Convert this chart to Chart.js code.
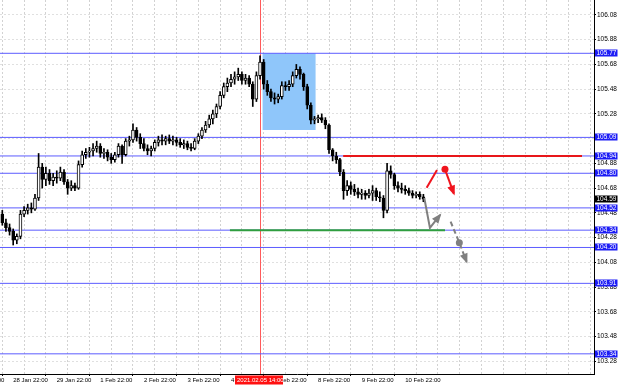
<!DOCTYPE html>
<html><head><meta charset="utf-8">
<script src="https://cdn.jsdelivr.net/npm/chart.js@4.4.1/dist/chart.umd.min.js"></script>
<style>html,body{margin:0;padding:0;background:#fff;overflow:hidden}canvas{display:block}</style>
</head><body>
<canvas id="c" width="620" height="385"></canvas>
<script>
// 2-hour bars, USDJPY-style price data (bar index = category position)
const openP = [104.47,104.40,104.36,104.33,104.26,104.29,104.47,104.50,104.52,104.51,
104.60,104.85,104.75,104.80,104.74,104.77,104.76,104.81,104.73,104.68,
104.70,104.68,104.87,104.95,104.97,104.98,105.00,105.02,104.96,104.97,
104.93,104.91,104.95,105.02,104.95,105.06,105.07,105.15,105.09,105.04,
105.00,104.98,105.00,105.05,105.07,105.06,105.08,105.06,105.07,105.05,
105.03,105.04,105.01,105.00,105.06,105.10,105.15,105.19,105.24,105.28,
105.34,105.43,105.50,105.53,105.56,105.58,105.60,105.55,105.57,105.52,
105.40,105.59,105.70,105.52,105.46,105.41,105.40,105.42,105.51,105.50,
105.52,105.59,105.64,105.60,105.50,105.35,105.23,105.24,105.25,105.23,
105.19,104.99,104.94,104.91,104.81,104.66,104.70,104.67,104.65,104.63,
104.64,104.62,104.64,104.66,104.61,104.60,104.50,104.82,104.79,104.70,
104.68,104.67,104.66,104.64,104.62,104.63,104.61];
const highP = [104.50,104.43,104.39,104.35,104.31,104.50,104.53,104.55,104.56,104.63,
104.96,104.88,104.85,104.83,104.80,104.82,104.85,104.83,104.75,104.74,
104.72,104.90,104.98,105.00,105.01,105.04,105.06,105.04,105.00,104.99,
104.96,104.97,105.04,105.03,105.08,105.10,105.20,105.17,105.12,105.08,
105.03,105.02,105.07,105.10,105.11,105.10,105.11,105.10,105.09,105.08,
105.07,105.06,105.04,105.08,105.12,105.17,105.22,105.27,105.31,105.36,
105.46,105.53,105.57,105.60,105.62,105.65,105.62,105.60,105.59,105.54,
105.62,105.75,105.72,105.55,105.48,105.45,105.44,105.54,105.54,105.55,
105.62,105.68,105.66,105.61,105.52,105.37,105.26,105.27,105.28,105.25,
105.20,105.00,104.97,104.92,104.83,104.74,104.73,104.71,104.68,104.67,
104.66,104.67,104.70,104.68,104.65,104.62,104.88,104.86,104.80,104.73,
104.72,104.70,104.68,104.66,104.65,104.65,104.63];
const lowP = [104.38,104.33,104.30,104.22,104.23,104.27,104.45,104.47,104.48,104.50,
104.58,104.68,104.70,104.71,104.70,104.72,104.74,104.71,104.63,104.66,
104.66,104.67,104.85,104.92,104.93,104.94,104.97,104.93,104.92,104.90,
104.88,104.89,104.93,104.88,104.94,105.02,105.05,105.06,105.00,104.98,
104.95,104.94,104.98,105.02,105.03,105.03,105.04,105.03,105.02,105.01,
105.00,104.99,104.98,104.99,105.04,105.08,105.13,105.17,105.20,105.25,
105.32,105.41,105.46,105.50,105.52,105.55,105.52,105.52,105.50,105.34,
105.38,105.56,105.48,105.43,105.38,105.36,105.37,105.40,105.47,105.47,
105.50,105.57,105.56,105.47,105.32,105.20,105.20,105.21,105.21,105.16,
104.96,104.90,104.88,104.78,104.59,104.62,104.63,104.62,104.60,104.59,
104.59,104.60,104.58,104.58,104.57,104.44,104.48,104.76,104.67,104.65,
104.64,104.63,104.62,104.60,104.60,104.59,104.57];
const closeP = [104.40,104.36,104.33,104.26,104.29,104.47,104.50,104.52,104.51,104.60,
104.85,104.75,104.80,104.74,104.77,104.76,104.81,104.73,104.68,104.70,
104.68,104.87,104.95,104.97,104.98,105.00,105.02,104.96,104.97,104.93,
104.91,104.95,105.02,104.95,105.06,105.07,105.15,105.09,105.04,105.00,
104.98,105.00,105.05,105.07,105.06,105.08,105.06,105.07,105.05,105.03,
105.04,105.01,105.00,105.06,105.10,105.15,105.19,105.24,105.28,105.34,
105.43,105.50,105.53,105.56,105.58,105.60,105.55,105.57,105.52,105.40,
105.59,105.70,105.52,105.46,105.41,105.40,105.42,105.51,105.50,105.52,
105.59,105.64,105.60,105.50,105.35,105.23,105.24,105.25,105.23,105.19,
104.99,104.94,104.91,104.81,104.66,104.70,104.67,104.65,104.63,104.64,
104.62,104.64,104.66,104.61,104.60,104.50,104.82,104.79,104.70,104.68,
104.67,104.66,104.64,104.62,104.63,104.61,104.59];

const xTickPos = [-9,3,15,27,39,51,63,75,87,99,111];
const xTickLabels = ['27 Jan 22:00','28 Jan 22:00','29 Jan 22:00','1 Feb 22:00','2 Feb 22:00','3 Feb 22:00','4 Feb 22:00','5 Feb 22:00','8 Feb 22:00','9 Feb 22:00','10 Feb 22:00'];
const yTicks = [103.28,103.48,103.68,103.88,104.08,104.28,104.48,104.68,104.88,105.08,105.28,105.48,105.68,105.88,106.08];

const hLevels = [105.77,105.09,104.94,104.80,104.52,104.34,104.20,103.91,103.34];
const lastPrice = 104.59;
const resistance = {from:93.9, to:159.7, price:104.94};
const support = {from:62.7, to:121.96, price:104.34};
const markerBar = 71;
const markerLabel = '2021.02.05 14:00';
const boxBars = [71.7, 86.3];
const boxPrices = [105.77, 105.15];
const redUp = [[116.9,104.683],[119.75,104.826]];
const redDown = [[121.95,104.832],[124.4,104.636]];
const grayUp = [[116.25,104.60],[117.8,104.358],[120.6,104.463]];
const grayDown = [[123.5,104.409],[125.9,104.239],[127.9,104.085]];

const X_MIN = -0.636, X_MAX = 163.0, Y_MIN = 103.177, Y_MAX = 106.201;
const FONT = "'Liberation Sans', Arial, sans-serif";

const gridPos = [];
for (let v = -9; v <= 159; v += 6) gridPos.push(v);
function labelFor(v){
  const j = xTickPos.findIndex(p => Math.abs(p - v) < 0.01);
  return j >= 0 ? xTickLabels[j] : '';
}
const toPts = arr => arr.map(p => ({x:p[0], y:p[1]}));

const wickData = highP.map((h,i) => ({x:i, y:[lowP[i], h]}));
const bodyData = openP.map((o,i) => ({x:i, y:[Math.min(o,closeP[i]), Math.max(o,closeP[i])]}));

const levelSets = hLevels.map(v => ({
  type:'line', data:[{x:-5,y:v},{x:170,y:v}], borderColor:'#5c5cff', borderWidth:1,
  pointRadius:0, order:3
}));

const overlay = {
  id:'overlay',
  beforeDatasetsDraw(chart){
    const {ctx, scales:{x,y}, chartArea:a} = chart;
    ctx.save();
    ctx.fillStyle = '#8fc6fa';
    const x1 = x.getPixelForValue(boxBars[0]), x2 = x.getPixelForValue(boxBars[1]);
    const y1 = y.getPixelForValue(boxPrices[0]), y2 = y.getPixelForValue(boxPrices[1]);
    ctx.fillRect(x1, y1, x2-x1, y2-y1);
    const vx = Math.round(x.getPixelForValue(markerBar)) + 0.5;
    ctx.strokeStyle = '#ff5a5a'; ctx.lineWidth = 1;
    ctx.beginPath(); ctx.moveTo(vx, a.top); ctx.lineTo(vx, a.bottom); ctx.stroke();
    ctx.restore();
  },
  afterDraw(chart){
    const {ctx, scales:{x,y}, chartArea:a} = chart;
    ctx.save();
    chart.data.datasets.forEach((ds, idx) => {
      if (!ds.arrowHead) return;
      const pts = chart.getDatasetMeta(idx).data;
      const p2 = pts[pts.length-1], p1 = pts[pts.length-2];
      const ang = Math.atan2(p2.y-p1.y, p2.x-p1.x);
      const L = 8, W = 4;
      ctx.fillStyle = ds.borderColor;
      ctx.beginPath();
      ctx.moveTo(p2.x + Math.cos(ang)*2, p2.y + Math.sin(ang)*2);
      ctx.lineTo(p2.x - Math.cos(ang)*L + Math.sin(ang)*W, p2.y - Math.sin(ang)*L - Math.cos(ang)*W);
      ctx.lineTo(p2.x - Math.cos(ang)*L - Math.sin(ang)*W, p2.y - Math.sin(ang)*L + Math.cos(ang)*W);
      ctx.closePath(); ctx.fill();
    });
    ctx.font = '6.5px ' + FONT;
    ctx.textBaseline = 'middle'; ctx.textAlign = 'left';
    const box = (v, col) => {
      const yy = Math.round(y.getPixelForValue(v));
      ctx.fillStyle = col;
      ctx.fillRect(a.right + 1, yy - 3.5, 22.5, 7);
      ctx.fillStyle = '#fff';
      ctx.fillText(v.toFixed(2), a.right + 2.5, yy + 0.5);
    };
    hLevels.forEach(v => box(v, '#1c1cf5'));
    box(lastPrice, '#000');
    const vx = Math.round(x.getPixelForValue(markerBar));
    ctx.fillStyle = '#ff1010';
    ctx.fillRect(vx - 25, a.bottom + 1.5, 48, 9);
    ctx.fillStyle = '#fff';
    ctx.font = '6px ' + FONT;
    ctx.fillText(markerLabel, vx - 23, a.bottom + 6.5);
    ctx.restore();
  }
};

new Chart(document.getElementById('c'), {
  type:'bar',
  data:{ datasets:[
    {type:'bar', data:bodyData, barThickness:3, grouped:false, order:0,
     backgroundColor: c => (closeP[c.dataIndex] >= openP[c.dataIndex] ? '#ffffff' : '#000000'),
     borderColor:'#000', borderWidth:1, borderSkipped:false},
    {type:'bar', data:wickData, barThickness:1, grouped:false, order:1, backgroundColor:'#000'},
    ...levelSets,
    {type:'line', data:[{x:resistance.from,y:resistance.price},{x:resistance.to,y:resistance.price}], borderColor:'#e8161a', borderWidth:2, pointRadius:0, order:2},
    {type:'line', data:[{x:support.from,y:support.price},{x:support.to,y:support.price}], borderColor:'#2f9e3f', borderWidth:2, pointRadius:0, order:2},
    {type:'line', data:toPts(redUp), borderColor:'#f0141e', borderWidth:2, pointRadius:0, order:-1},
    {type:'line', data:toPts(redDown), borderColor:'#f0141e', borderWidth:2, pointRadius:[3.5,0], pointBackgroundColor:'#f0141e', pointBorderWidth:0, order:-1, arrowHead:true},
    {type:'line', data:toPts(grayUp), borderColor:'#808080', borderWidth:2, pointRadius:0, order:-1, arrowHead:true},
    {type:'line', data:toPts(grayDown), borderColor:'#808080', borderWidth:2, borderDash:[5,3], pointRadius:[0,3.5,0], pointBackgroundColor:'#808080', pointBorderWidth:0, order:-1, arrowHead:true}
  ]},
  options:{
    responsive:false, animation:false, devicePixelRatio:1,
    layout:{padding:0, autoPadding:false},
    plugins:{legend:{display:false}, tooltip:{enabled:false}},
    scales:{
      x:{type:'linear', min:X_MIN, max:X_MAX, position:'bottom', offset:false,
        afterBuildTicks: s => { s.ticks = gridPos.map(v => ({value:v})); },
        afterFit: s => { s.height = 11; s.paddingLeft = 0; s.paddingRight = 0; },
        ticks:{autoSkip:false, maxRotation:0, minRotation:0, align:'start', padding:1,
          font:{family:FONT, size:6}, color:'#000', callback: v => labelFor(v)},
        grid:{color:'#d2d2d2', lineWidth:1, tickLength:2,
          tickColor: c => (c.tick && labelFor(c.tick.value) ? '#000' : 'rgba(0,0,0,0)')},
        border:{display:true, color:'#000', width:1, dash:[2,2]}
      },
      y:{type:'linear', min:Y_MIN, max:Y_MAX, position:'right',
        afterBuildTicks: s => { s.ticks = yTicks.map(v => ({value:v})); },
        afterFit: s => { s.width = 26; s.paddingTop = 0; s.paddingBottom = 0; },
        ticks:{padding:1, font:{family:FONT, size:6.5}, color:'#000', callback: v => Number(v).toFixed(2)},
        grid:{color:'#e0e0e0', lineWidth:1, tickLength:2, tickColor:'#000'},
        border:{display:true, color:'#000', width:1, dash:[2,2]}
      }
    }
  },
  plugins:[overlay]
});
</script>
</body></html>
